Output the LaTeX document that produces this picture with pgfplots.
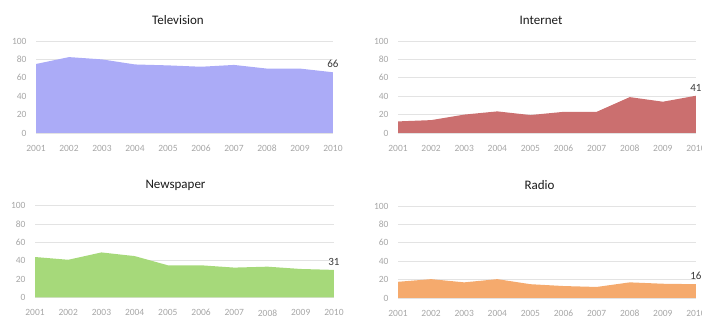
\documentclass[border=0pt]{standalone}
\usepackage{pgfplots}
\pgfplotsset{compat=1.18}
\usepackage{fontspec}
\setmainfont{Carlito}
\definecolor{tvc}{HTML}{ABABF7}
\definecolor{inc}{HTML}{CB6F6F}
\definecolor{npc}{HTML}{A6D97A}
\definecolor{rac}{HTML}{F5AA6D}
\definecolor{tickc}{HTML}{A6A6A6}
\definecolor{gridc}{HTML}{E3E3E3}
\definecolor{titc}{HTML}{1A1A1A}
\definecolor{labc}{HTML}{3A3A3A}
\pgfplotsset{
  panel/.style={
    anchor=south west, scale only axis,
    xmin=2001, xmax=2010, ymin=0, ymax=100,
    xtick={2001,...,2010}, ytick={0,20,...,100},
    /pgf/number format/assume math mode=true,
    /pgf/number format/1000 sep={},
    ymajorgrids, major grid style={draw=gridc, line width=0.6pt},
    axis line style={draw=none}, major tick length=0pt,
    tick label style={font=\fontsize{9.5}{10}\selectfont, text=tickc},
    yticklabel style={xshift=-6pt},
    xticklabel style={yshift=-8.5pt},
    title style={font=\fontsize{13}{14}\selectfont, text=titc, anchor=center, yshift=14.5pt},
    clip=false,
  }
}
\begin{document}
\begin{tikzpicture}[x=1pt,y=1pt]
\path[use as bounding box] (0,0) rectangle (702,316);
\clip (0,0) rectangle (702,316);
% Television
\begin{axis}[panel, at={(36pt,183pt)}, width=297pt, height=92pt,
  title={Television}, title style={at={(0.478,1)}}]
\addplot[fill=tvc, draw=none] coordinates {(2001,75) (2002,82.5) (2003,80) (2004,74.5) (2005,73.5) (2006,72) (2007,74) (2008,70) (2009,70) (2010,66)} \closedcycle;
\node[above, font=\fontsize{11}{12}\selectfont, text=labc, yshift=1pt] at (axis cs:2010,66) {66};
\end{axis}
% Internet
\begin{axis}[panel, at={(398pt,183pt)}, width=298pt, height=92pt,
  title={Internet}, title style={at={(0.48,1)}}]
\addplot[fill=inc, draw=none] coordinates {(2001,12.6) (2002,14) (2003,20) (2004,23.5) (2005,19.5) (2006,23) (2007,23) (2008,39) (2009,34) (2010,40.5)} \closedcycle;
\node[above, font=\fontsize{11}{12}\selectfont, text=labc, yshift=1pt] at (axis cs:2010,40.5) {41};
\end{axis}
% Newspaper
\begin{axis}[panel, at={(35pt,18.5pt)}, width=299pt, height=92pt,
  title={Newspaper}, title style={at={(0.47,1)}}]
\addplot[fill=npc, draw=none] coordinates {(2001,44) (2002,41) (2003,49) (2004,45) (2005,35) (2006,35) (2007,32.5) (2008,33.5) (2009,31) (2010,30)} \closedcycle;
\node[above, font=\fontsize{11}{12}\selectfont, text=labc, yshift=1pt] at (axis cs:2010,30) {31};
\end{axis}
% Radio
\begin{axis}[panel, at={(398pt,18pt)}, width=298pt, height=92pt,
  title={Radio}, title style={at={(0.475,1)}}]
\addplot[fill=rac, draw=none] coordinates {(2001,17.6) (2002,20.5) (2003,17) (2004,20.5) (2005,15) (2006,13) (2007,12) (2008,17) (2009,15.5) (2010,15)} \closedcycle;
\node[above, font=\fontsize{11}{12}\selectfont, text=labc, yshift=1pt] at (axis cs:2010,15) {16};
\end{axis}
\end{tikzpicture}
\end{document}
